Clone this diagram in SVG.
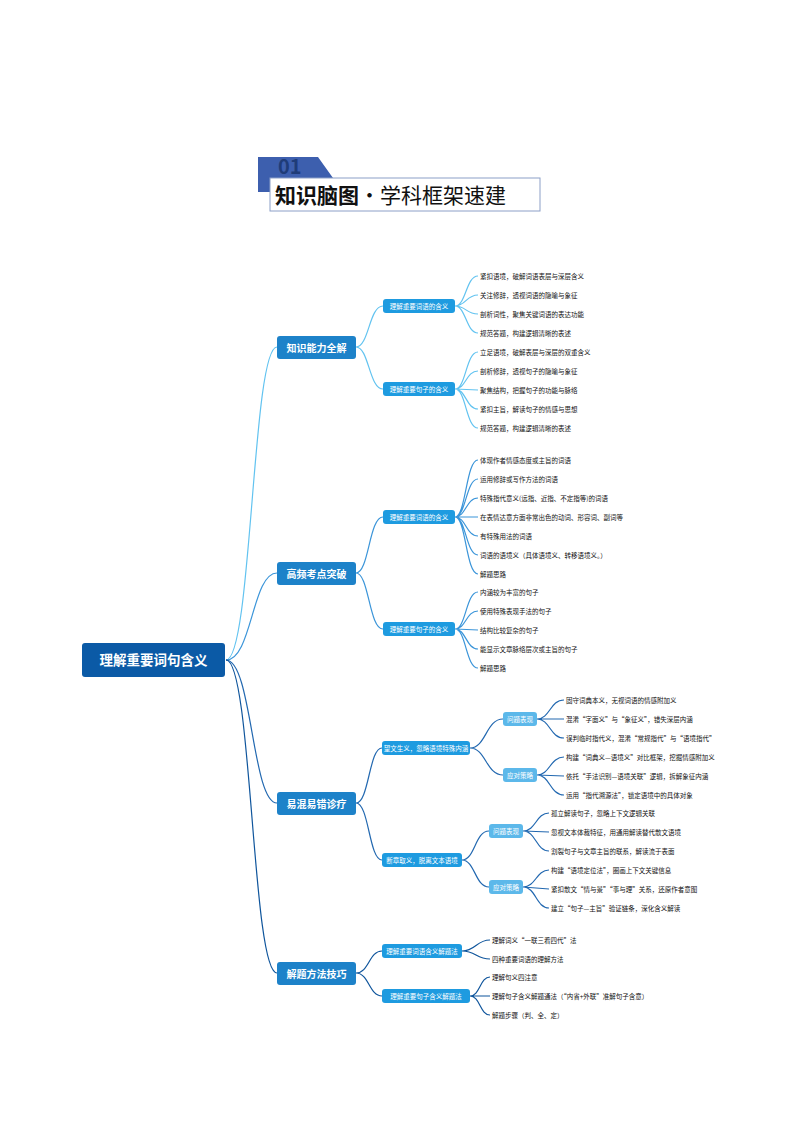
<svg xmlns="http://www.w3.org/2000/svg" width="794" height="1123" viewBox="0 0 794 1123">
<style>
text{font-family:"Noto Sans CJK SC","Liberation Sans",sans-serif}
.lf{font-size:6.5px;fill:#111}
.l2 rect{fill:#1e9be0}
.l2 text{font-size:6.5px;fill:#fff;text-anchor:middle}
.l3 rect{fill:#5cb8ea}
.l3 text{font-size:6.5px;fill:#fff;text-anchor:middle}
.l1 rect{fill:#1d82c9}
.l1 text{font-size:10px;fill:#fff;text-anchor:middle;font-weight:bold}
path{fill:none}
.c1{stroke:#62c3f0;stroke-width:1.2}
.c2{stroke:#3b95d9;stroke-width:1.2}
.c3{stroke:#2268b0;stroke-width:1.2}
.c4{stroke:#0f559c;stroke-width:1.2}
</style>
<g id="title">
<polygon points="258,157 318,157 333,178 270,178 270,192 258,192" fill="#3d5fae"/>
<text x="278" y="174" font-size="20" font-weight="bold" fill="#1f3c78" font-family="Liberation Sans,sans-serif">01</text>
<rect x="270" y="178" width="270" height="33" fill="#fff" stroke="#8c9fc7" stroke-width="1"/>
<text x="275" y="203" font-size="21" fill="#111"><tspan font-weight="bold">知识脑图</tspan>·学科框架速建</text>
</g>
<g id="connectors">
<path class="c1" stroke-width="2" d="M226 660 C252 660,252 347,277 347"/>
<path class="c2" stroke-width="2" d="M226 660 C252 660,252 573,277 573"/>
<path class="c3" stroke-width="2" d="M226 660 C252 660,252 803,277 803"/>
<path class="c4" stroke-width="2" d="M226 660 C252 660,252 973,277 973"/>
<path class="c1" d="M356 347 C369 347,369 306,383 306 M356 347 C369 347,369 389,383 389"/>
<path class="c1" d="M455 306 C466 306,466 276,478 276 M455 306 C466 306,466 295,478 295 M455 306 C466 306,466 314,478 314 M455 306 C466 306,466 333,478 333"/>
<path class="c1" d="M455 389 C466 389,466 352,478 352 M455 389 C466 389,466 371,478 371 M455 389 L478 390 M455 389 C466 389,466 409,478 409 M455 389 C466 389,466 428,478 428"/>
<path class="c2" d="M356 573 C369 573,369 517,383 517 M356 573 C369 573,369 629,383 629"/>
<path class="c2" d="M455 517 C466 517,466 460,478 460 M455 517 C466 517,466 479,478 479 M455 517 C466 517,466 498,478 498 M455 517 L478 517 M455 517 C466 517,466 536,478 536 M455 517 C466 517,466 555,478 555 M455 517 C466 517,466 574,478 574"/>
<path class="c2" d="M455 629 C466 629,466 592,478 592 M455 629 C466 629,466 611,478 611 M455 629 L478 630 M455 629 C466 629,466 649,478 649 M455 629 C466 629,466 668,478 668"/>
<path class="c3" d="M356 803 C369 803,369 748,382 748 M356 803 C369 803,369 860,382 860"/>
<path class="c3" d="M470 748 C486 748,486 719,503 719 M470 748 C486 748,486 775,503 775"/>
<path class="c3" d="M537 719 C550 719,550 700,564 700 M537 719 L564 719 M537 719 C550 719,550 738,564 738 M537 775 C550 775,550 757,564 757 M537 775 L564 776 M537 775 C550 775,550 795,564 795"/>
<path class="c3" d="M462 860 C475 860,475 831,489 831 M462 860 C475 860,475 887,489 887"/>
<path class="c3" d="M523 831 C536 831,536 813,549 813 M523 831 L549 832 M523 831 C536 831,536 851,549 851 M523 887 C536 887,536 870,549 870 M523 887 L549 889 M523 887 C536 887,536 908,549 908"/>
<path class="c4" d="M356 973 C369 973,369 951,382 951 M356 973 C369 973,369 996,382 996"/>
<path class="c4" d="M462 951 C476 951,476 940,490 940 M462 951 C476 951,476 959,490 959 M470 996 C480 996,480 977,490 977 M470 996 L490 996 M470 996 C480 996,480 1015,490 1015"/>
</g>
<g id="root"><rect x="82" y="643" width="143" height="34" rx="3" fill="#0b5aa6"/><text x="153.5" y="665" font-size="13.5" fill="#fff" text-anchor="middle" font-weight="bold">理解重要词句含义</text></g>
<g id="n1" class="l1"><rect x="277" y="336" width="79" height="23" rx="3"/><text x="316.5" y="351.5">知识能力全解</text></g>
<g id="n2" class="l1"><rect x="277" y="562" width="79" height="23" rx="3"/><text x="316.5" y="577.5">高频考点突破</text></g>
<g id="n3" class="l1"><rect x="277" y="792" width="79" height="23" rx="3"/><text x="316.5" y="807.5">易混易错诊疗</text></g>
<g id="n4" class="l1"><rect x="277" y="962" width="79" height="23" rx="3"/><text x="316.5" y="977.5">解题方法技巧</text></g>
<g id="n11" class="l2"><rect x="383" y="299" width="72" height="14" rx="3"/><text x="419" y="308.5">理解重要词语的含义</text></g>
<g id="n12" class="l2"><rect x="383" y="382" width="72" height="14" rx="3"/><text x="419" y="391.5">理解重要句子的含义</text></g>
<g id="n21" class="l2"><rect x="383" y="510" width="72" height="14" rx="3"/><text x="419" y="519.5">理解重要词语的含义</text></g>
<g id="n22" class="l2"><rect x="383" y="622" width="72" height="14" rx="3"/><text x="419" y="631.5">理解重要句子的含义</text></g>
<g id="n31" class="l2"><rect x="382" y="741" width="88" height="14" rx="3"/><text x="426" y="750.5">望文生义，忽略语境特殊内涵</text></g>
<g id="n32" class="l2"><rect x="382" y="853" width="80" height="14" rx="3"/><text x="422" y="862.5">断章取义，脱离文本语境</text></g>
<g id="n311" class="l3"><rect x="503" y="712" width="34" height="14" rx="3"/><text x="520" y="721.5">问题表现</text></g>
<g id="n312" class="l3"><rect x="503" y="768" width="34" height="14" rx="3"/><text x="520" y="777.5">应对策略</text></g>
<g id="n321" class="l3"><rect x="489" y="824" width="34" height="14" rx="3"/><text x="506" y="833.5">问题表现</text></g>
<g id="n322" class="l3"><rect x="489" y="880" width="34" height="14" rx="3"/><text x="506" y="889.5">应对策略</text></g>
<g id="n41" class="l2"><rect x="382" y="944" width="80" height="14" rx="3"/><text x="422" y="953.5">理解重要词语含义解题法</text></g>
<g id="n42" class="l2"><rect x="382" y="989" width="88" height="14" rx="3"/><text x="426" y="998.5">理解重要句子含义解题法</text></g>
<g id="leaves" class="lf">
<text x="480" y="278.5">紧扣语境，破解词语表层与深层含义</text>
<text x="480" y="297.5">关注修辞，透视词语的隐喻与象征</text>
<text x="480" y="316.5">剖析词性，聚焦关键词语的表达功能</text>
<text x="480" y="335.5">规范答题，构建逻辑清晰的表述</text>
<text x="480" y="354.5">立足语境，破解表层与深层的双重含义</text>
<text x="480" y="373.5">剖析修辞，透视句子的隐喻与象征</text>
<text x="480" y="392.5">聚焦结构，把握句子的功能与脉络</text>
<text x="480" y="411.5">紧扣主旨，解读句子的情感与思想</text>
<text x="480" y="430.5">规范答题，构建逻辑清晰的表述</text>
<text x="480" y="462.5">体现作者情感态度或主旨的词语</text>
<text x="480" y="481.5">运用修辞或写作方法的词语</text>
<text x="480" y="500.5">特殊指代意义(远指、近指、不定指等)的词语</text>
<text x="480" y="519.5">在表情达意方面非常出色的动词、形容词、副词等</text>
<text x="480" y="538.5">有特殊用法的词语</text>
<text x="480" y="557.5">词语的语境义（具体语境义、转移语境义。）</text>
<text x="480" y="576.5">解题思路</text>
<text x="480" y="594.5">内涵较为丰富的句子</text>
<text x="480" y="613.5">使用特殊表现手法的句子</text>
<text x="480" y="632.5">结构比较复杂的句子</text>
<text x="480" y="651.5">能显示文章脉络层次或主旨的句子</text>
<text x="480" y="670.5">解题思路</text>
<text x="566" y="702.5">固守词典本义，无视词语的情感附加义</text>
<text x="566" y="721.5">混淆“字面义”与“象征义”，错失深层内涵</text>
<text x="566" y="740.5">误判临时指代义，混淆“常规指代”与“语境指代”</text>
<text x="566" y="759.5">构建“词典义—语境义”对比框架，挖掘情感附加义</text>
<text x="566" y="778.5">依托“手法识别—语境关联”逻辑，拆解象征内涵</text>
<text x="566" y="797.5">运用“指代溯源法”，锁定语境中的具体对象</text>
<text x="551" y="815.5">孤立解读句子，忽略上下文逻辑关联</text>
<text x="551" y="834.5">忽视文本体裁特征，用通用解读替代散文语境</text>
<text x="551" y="853.5">割裂句子与文章主旨的联系，解读流于表面</text>
<text x="551" y="872.5">构建“语境定位法”，圈画上下文关键信息</text>
<text x="551" y="891.5">紧扣散文“情与景”“事与理”关系，还原作者意图</text>
<text x="551" y="910.5">建立“句子—主旨”验证链条，深化含义解读</text>
<text x="492" y="942.5">理解词义“一联三看四代”法</text>
<text x="492" y="961.5">四种重要词语的理解方法</text>
<text x="492" y="979.5">理解句义四注意</text>
<text x="492" y="998.5">理解句子含义解题通法（“内省+外联”准解句子含意）</text>
<text x="492" y="1017.5">解题步骤（判、全、定）</text>
</g>
</svg>
